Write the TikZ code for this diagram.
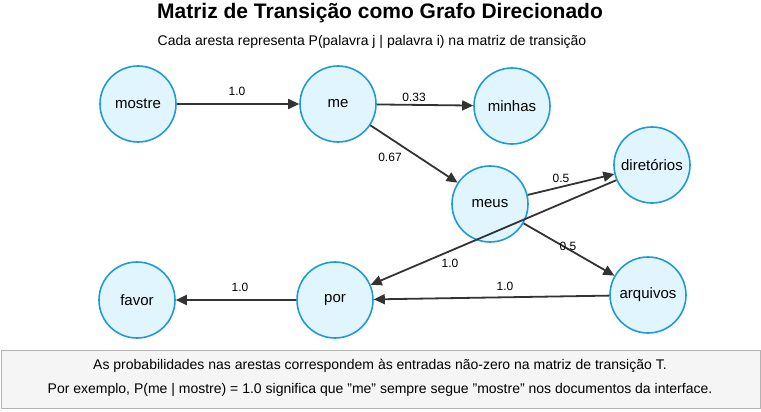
\documentclass[tikz,border=0pt]{standalone}
\usepackage{fontspec}
\setmainfont{Liberation Sans}
\usetikzlibrary{positioning}
\usetikzlibrary{arrows.meta}
\definecolor{wordfill}{HTML}{E1F5FE}
\definecolor{worddraw}{HTML}{1E9BD7}
\definecolor{edgecolor}{HTML}{333333}
\tikzstyle{word} = [
	circle,
	line width=1.6pt,
	draw=worddraw,
	fill=wordfill,
	minimum size=76pt,
	font=\fontsize{15}{18}\selectfont,
]
\tikzstyle{trans} = [
	draw=edgecolor,
	line width=1.8pt,
	-{Triangle[length=11pt,width=10pt]},
]
\tikzstyle{prob} = [
	font=\fontsize{12}{14}\selectfont,
	inner sep=1pt,
]
\begin{document}
\begin{tikzpicture}[x=1pt, y=-1pt]
	\useasboundingbox (0,0) rectangle (761,412);
	
	%
	% Title
	\node[font=\bfseries\fontsize{21}{24}\selectfont] (title) at (380,13) {Matriz de Transição como Grafo Direcionado};
	\node[font=\fontsize{14}{16}\selectfont] (subtitle) at (372,42) {Cada aresta representa P(palavra j | palavra i) na matriz de transição};
	
	%
	% Words
	\node[word] (mostre) at (138,104) {mostre};
	\node[word] (me) at (338,104) {me};
	\node[word] (minhas) at (512,106) {minhas};
	\node[word] (meus) at (490,204) {meus};
	\node[word] (diretorios) at (652,165) {diretórios};
	\node[word] (arquivos) at (648,295) {arquivos};
	\node[word] (por) at (335,300) {por};
	\node[word] (favor) at (137,300) {favor};
	
	%
	% Transitions
	\draw[trans] (mostre) -- (me);
	\draw[trans] (me) -- (minhas);
	\draw[trans] (me) -- (meus);
	\draw[trans] (meus) -- (diretorios);
	\draw[trans] (meus) -- (arquivos);
	\draw[trans] (diretorios) -- (por);
	\draw[trans] (arquivos) -- (por);
	\draw[trans] (por) -- (favor);
	
	\node[prob] (p1) at (237,91) {1.0};
	\node[prob] (p2) at (414,97) {0.33};
	\node[prob] (p3) at (390,157) {0.67};
	\node[prob] (p4) at (561,178) {0.5};
	\node[prob] (p5) at (568,246) {0.5};
	\node[prob] (p6) at (450,263) {1.0};
	\node[prob] (p7) at (505,286) {1.0};
	\node[prob] (p8) at (240,287) {1.0};
	
	%
	% Note
	\node[draw=gray!60, fill=gray!8, minimum width=759pt, minimum height=58pt, inner sep=0pt] (note) at (380.5,379) {};
	\node[font=\fontsize{14}{16}\selectfont] (note1) at (380,366) {As probabilidades nas arestas correspondem às entradas não-zero na matriz de transição T.};
	\node[font=\fontsize{14}{16}\selectfont] (note2) at (380,390) {Por exemplo, P(me | mostre) = 1.0 significa que "me" sempre segue "mostre" nos documentos da interface.};
	
\end{tikzpicture}
\end{document}
